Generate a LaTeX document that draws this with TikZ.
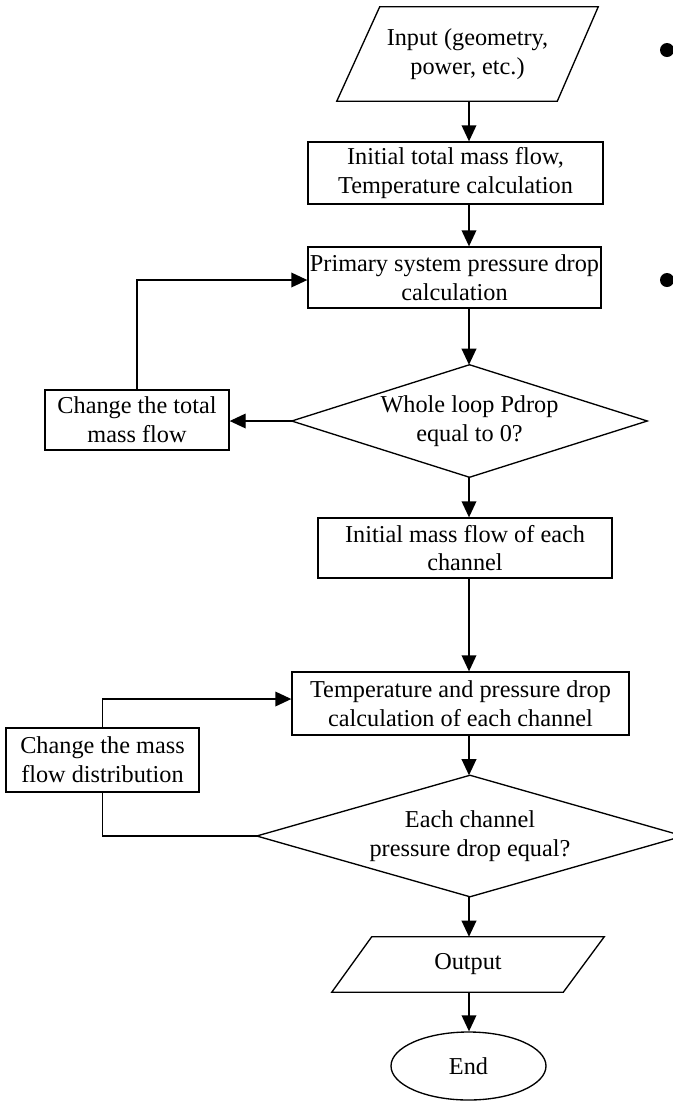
\documentclass[tikz,border=0pt]{standalone}
\usepackage{fontspec}
\setmainfont{Liberation Serif}
\usetikzlibrary{shapes.geometric,arrows.meta,calc}
\begin{document}
\begin{tikzpicture}[x=0.75pt,y=-0.75pt,
  txt/.style={font=\fontsize{18.2}{21.5}\selectfont, align=center, inner sep=0pt},
  box/.style={txt, draw, line width=1pt, rectangle},
  plain/.style={txt, rectangle},
  outl/.style={line width=1pt, line join=miter},
  arr/.style={line width=1pt, -{Triangle[length=12pt,width=11pt]}},
  ln/.style={line width=1pt},
  dot/.style={circle, fill=black, inner sep=0pt, minimum size=10.5pt}]
\fill[white] (0,0) rectangle (673,1101);
\useasboundingbox (0,0) rectangle (673,1101);
\coordinate (col) at (469,0);

% Input
\node[plain, minimum width=195.75pt, minimum height=70.5pt] (in) at (467.5,54) {Input (geometry,\\power, etc.)};
\draw[outl] (in.south west) -- ($(in.north west)+(43,0)$) -- (in.north east) -- ($(in.south east)-(41,0)$) -- cycle;

\node[box, minimum width=221.25pt, minimum height=46.5pt] (b1) at (455.5,173) {Initial total mass flow,\\Temperature calculation};
\node[box, minimum width=219.75pt, minimum height=45.75pt] (b2) at (454.5,277.5) {Primary system pressure drop\\calculation};

\node[plain, minimum width=266.25pt, minimum height=84pt] (d1) at (469.5,421) {Whole loop Pdrop\\equal to 0?};
\draw[outl] (d1.north) -- (d1.east) -- (d1.south) -- (d1.west) -- cycle;

\node[box, minimum width=138pt, minimum height=45pt] (c1) at (137,420) {Change the total\\mass flow};

\node[box, minimum width=220.5pt, minimum height=45pt] (b3) at (465,548) {Initial mass flow of each\\channel};
\node[box, minimum width=252.75pt, minimum height=47.25pt] (b4) at (460.5,703.5) {Temperature and pressure drop\\calculation of each channel};
\node[box, minimum width=144.75pt, minimum height=48pt] (c2) at (102.5,760) {Change the mass\\flow distribution};

\node[plain, minimum width=319.5pt, minimum height=90.75pt] (d2) at (470,836) {Each channel\\pressure drop equal?};
\draw[outl] (d2.north) -- (d2.east) -- (d2.south) -- (d2.west) -- cycle;

\node[plain, minimum width=204pt, minimum height=41.25pt] (out) at (468,964.5) {Output};
\draw[outl] (out.south west) -- ($(out.north west)+(40,0)$) -- (out.north east) -- ($(out.south east)-(41,0)$) -- cycle;

\node[txt, draw, line width=1pt, ellipse, minimum width=116.25pt, minimum height=51pt] (end) at (468.5,1066) {End};

% bullets
\node[dot] (bu1) at (667,50) {};
\node[dot] (bu2) at (667,280) {};

% main flow
\draw[arr] (in.south -| col) -- (b1.north -| col);
\draw[arr] (b1.south -| col) -- (b2.north -| col);
\draw[arr] (b2.south -| col) -- (d1.north -| col);
\draw[arr] (d1.south -| col) -- (b3.north -| col);
\draw[arr] (b3.south -| col) -- (b4.north -| col);
\draw[arr] (b4.south -| col) -- (d2.north -| col);
\draw[arr] (d2.south -| col) -- (out.north -| col);
\draw[arr] (out.south -| col) -- (end.north -| col);

% loops
\draw[arr] (d1.west) -- (d1.west -| c1.east);
\draw[arr] (c1.north) |- ($(b2.west)+(0,2.5)$);
\draw[arr] (c2.north) |- ($(b4.west)+(0,-4.5)$);
\draw[ln] (c2.south) |- (d2.west);
\end{tikzpicture}
\end{document}
